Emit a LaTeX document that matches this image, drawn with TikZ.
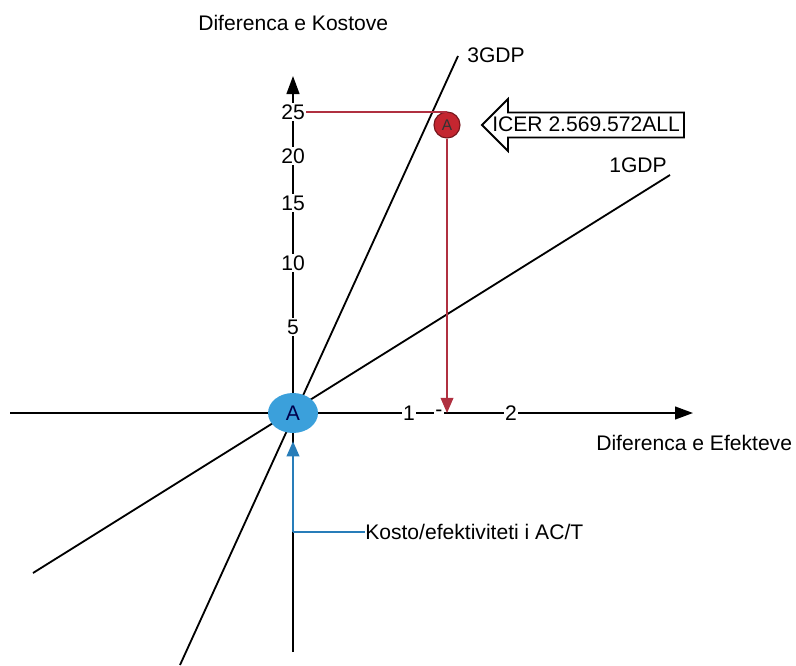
\documentclass[tikz,border=0pt]{standalone}
\usepackage{fontspec}
\setmainfont{Liberation Sans}
\usepackage{xcolor}
\usetikzlibrary{positioning, calc, arrows.meta, shapes}
\definecolor{ellblue}{RGB}{59,160,219}
\definecolor{arrblue}{RGB}{40,125,185}
\definecolor{circred}{RGB}{196,38,48}
\definecolor{linered}{RGB}{176,48,64}
\tikzset{every node/.style={font=\fontsize{15}{18}\selectfont}}
\tikzset{axis/.style={line width=1.3pt, -{Triangle[length=4.5mm, width=3.2mm]}}}
\tikzset{gdp/.style={line width=1.3pt}}
\tikzset{tick/.style={fill=white, inner sep=1pt}}
\tikzset{lbl/.style={inner sep=0pt, anchor=west}}
\tikzset{redline/.style={linered, line width=1pt}}
\tikzset{blueline/.style={arrblue, line width=1.3pt}}

\begin{document}
\begin{tikzpicture}[x=0.25mm, y=-0.25mm]
  \useasboundingbox (0,0) rectangle (796,665);

  % axes
  \coordinate (xl) at (10,413);
  \coordinate (xr) at (693,413);
  \coordinate (yb) at (293,652);
  \coordinate (yt) at (293,76);
  \draw[axis] (xl) -- (xr);
  \draw[axis] (yb) -- (yt);

  % GDP lines
  \coordinate (g3a) at (180,665);
  \coordinate (g3b) at (458,56);
  \coordinate (g1a) at (33,573);
  \coordinate (g1b) at (670,175);
  \draw[gdp] (g3a) -- (g3b);
  \draw[gdp] (g1a) -- (g1b);

  % tick labels
  \foreach \v/\y in {25/112, 20/156, 15/203, 10/263, 5/327}
    \node[tick] (y\v) at (293,\y) {\v};
  \node[tick] (x1) at (409,413) {1};
  \node[tick] (xm) at (439,413) {-};
  \node[tick] (x2) at (511,413) {2};

  % points
  \node[ellipse, fill=ellblue, inner sep=0pt,
        minimum width=12.5mm, minimum height=10mm, text=blue!30!black] (A) at (293,413) {A};
  \node[circle, fill=circred, draw=circred!60!black, line width=0.8pt, inner sep=0pt,
        minimum size=6.5mm, font=\fontsize{11}{13}\selectfont, text=black!80] (B) at (447,125) {A};

  % ICER
  \draw[redline] (y25.east) -- (y25.east -| B.north);
  \draw[redline, -{Triangle[length=3.8mm, width=3.2mm]}] (B) -- (B |- xr);

  \draw[line width=1.3pt, fill=white] (482,125) -- (508,99) -- (508,112.5) -- (684,112.5)
    -- (684,137.5) -- (508,137.5) -- (508,151) -- cycle;
  \node[lbl] (icer) at (492,124) {ICER 2.569.572ALL};

  % cost-effectiveness
  \coordinate (kc) at (293,532);
  \node[lbl] (kosto) at (365,532) {Kosto/efektiviteti i AC/T};
  \draw[blueline, -{Triangle[length=3.8mm, width=3.2mm]}, shorten >=2mm] (kc) -- (A.south);
  \draw[blueline] (kc) -- (kosto.west);

  % labels
  \node[lbl] (ylab) at (198,23) {Diferenca e Kostove};
  \node[lbl] (xlab) at (596,443) {Diferenca e Efekteve};
  \node[lbl] (g3lab) at (467,55) {3GDP};
  \node[lbl] (g1lab) at (609,165) {1GDP};
\end{tikzpicture}
\end{document}
